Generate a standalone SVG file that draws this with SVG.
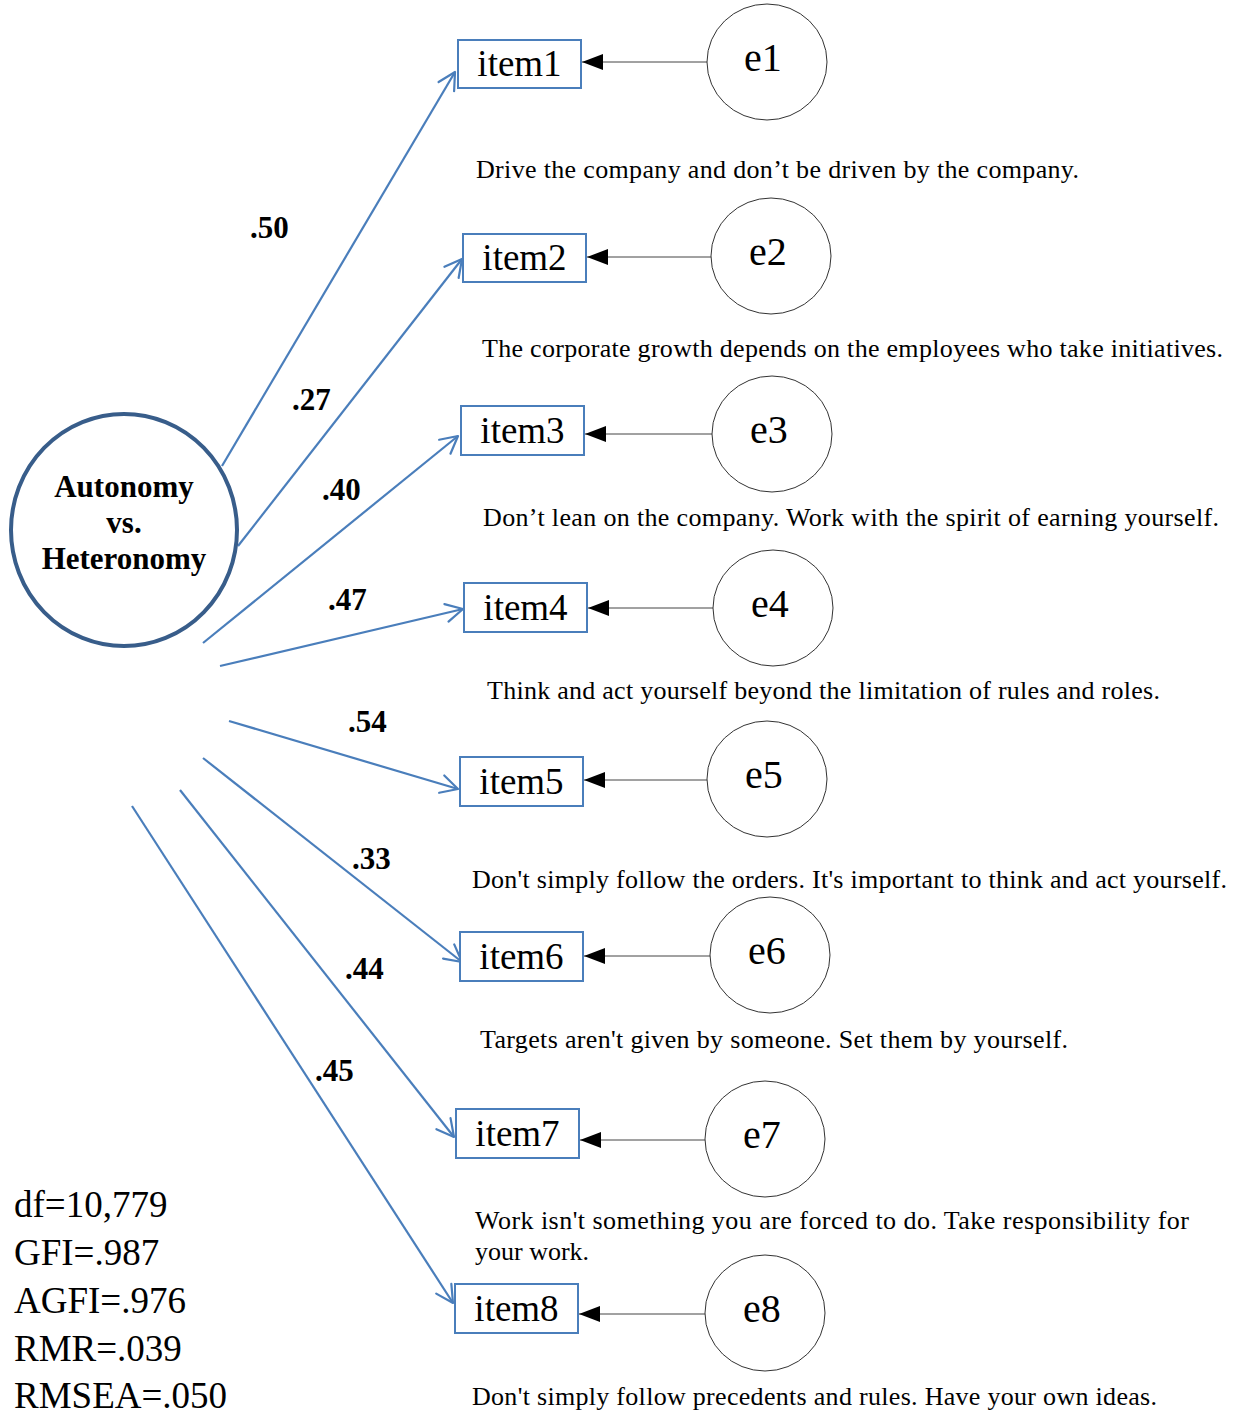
<svg xmlns="http://www.w3.org/2000/svg" width="1237" height="1414" viewBox="0 0 1237 1414">
<style>
  .item rect { fill: #fff; stroke: #4A7EBB; stroke-width: 2; }
  .item text { font-family: "Liberation Serif", "Times New Roman", serif; font-size: 37px; fill: #000; text-anchor: middle; }
  .err ellipse { fill: #fff; stroke: #333; stroke-width: 1; }
  .err text { font-family: "Liberation Serif", "Times New Roman", serif; font-size: 40px; fill: #000; text-anchor: middle; }
  .desc { font-family: "Liberation Serif", "Times New Roman", serif; font-size: 26px; fill: #000; }
  .load { font-family: "Liberation Serif", "Times New Roman", serif; font-size: 31px; font-weight: bold; fill: #000; }
  .stat { font-family: "Liberation Serif", "Times New Roman", serif; font-size: 37px; fill: #000; }
  .latent text { font-family: "Liberation Serif", "Times New Roman", serif; font-size: 31px; font-weight: bold; fill: #000; text-anchor: middle; }
  .path { stroke: #4A7EBB; stroke-width: 2.2; fill: none; marker-end: url(#openArrow); }
  .eline { stroke: #444; stroke-width: 1; fill: none; marker-end: url(#solidArrow); }
</style>
<defs>
  <marker id="openArrow" viewBox="-20 -12 24 24" markerWidth="24" markerHeight="24" refX="0" refY="0" orient="auto" markerUnits="userSpaceOnUse">
    <path d="M-17,-9 L0,0 L-17,9" fill="none" stroke="#4A7EBB" stroke-width="2.2" stroke-linecap="round" stroke-linejoin="round"/>
  </marker>
  <marker id="solidArrow" viewBox="-22 -10 24 20" markerWidth="24" markerHeight="20" refX="0" refY="0" orient="auto" markerUnits="userSpaceOnUse">
    <path d="M0,0 L-21,-8 L-21,8 Z" fill="#000"/>
  </marker>
</defs>
<rect width="1237" height="1414" fill="#fff"/>

<g id="connectors">
  <line class="path" x1="222" y1="466" x2="455" y2="72"/>
  <line class="path" x1="238" y1="546" x2="462" y2="259"/>
  <line class="path" x1="203" y1="643" x2="458" y2="436"/>
  <line class="path" x1="220" y1="666" x2="463" y2="609"/>
  <line class="path" x1="229" y1="721" x2="458" y2="789"/>
  <line class="path" x1="203" y1="758" x2="462" y2="962"/>
  <line class="path" x1="180" y1="790" x2="454" y2="1137"/>
  <line class="path" x1="132" y1="806" x2="453" y2="1303"/>

  <line class="eline" x1="707" y1="62" x2="582" y2="62"/>
  <line class="eline" x1="712" y1="257" x2="587" y2="257"/>
  <line class="eline" x1="713" y1="434" x2="585" y2="434"/>
  <line class="eline" x1="714" y1="608" x2="588" y2="608"/>
  <line class="eline" x1="707" y1="780" x2="584" y2="780"/>
  <line class="eline" x1="711" y1="956" x2="584" y2="956"/>
  <line class="eline" x1="705" y1="1140" x2="580" y2="1140"/>
  <line class="eline" x1="705" y1="1314" x2="579" y2="1314"/>
</g>

<g id="latent" class="latent">
  <ellipse cx="124" cy="530" rx="113" ry="116" fill="#fff" stroke="#385D8A" stroke-width="4"/>
  <text x="124" y="497">Autonomy</text>
  <text x="124" y="533">vs.</text>
  <text x="124" y="569">Heteronomy</text>
</g>

<g id="item1" class="item"><rect x="458" y="40" width="123" height="48"/><text x="519.5" y="76">item1</text></g>
<g id="item2" class="item"><rect x="463" y="234" width="123" height="48"/><text x="524.5" y="270">item2</text></g>
<g id="item3" class="item"><rect x="461" y="406" width="123" height="49"/><text x="522.5" y="443">item3</text></g>
<g id="item4" class="item"><rect x="464" y="583" width="123" height="49"/><text x="525.5" y="620">item4</text></g>
<g id="item5" class="item"><rect x="460" y="757" width="123" height="49"/><text x="521.5" y="794">item5</text></g>
<g id="item6" class="item"><rect x="460" y="932" width="123" height="49"/><text x="521.5" y="969">item6</text></g>
<g id="item7" class="item"><rect x="456" y="1109" width="123" height="49"/><text x="517.5" y="1146">item7</text></g>
<g id="item8" class="item"><rect x="455" y="1284" width="123" height="49"/><text x="516.5" y="1321">item8</text></g>

<g id="e1" class="err"><ellipse cx="767" cy="62" rx="60" ry="58"/><text x="763" y="71">e1</text></g>
<g id="e2" class="err"><ellipse cx="771" cy="256" rx="60" ry="58"/><text x="768" y="265">e2</text></g>
<g id="e3" class="err"><ellipse cx="772" cy="434" rx="60" ry="58"/><text x="769" y="443">e3</text></g>
<g id="e4" class="err"><ellipse cx="773" cy="608" rx="60" ry="58"/><text x="770" y="617">e4</text></g>
<g id="e5" class="err"><ellipse cx="767" cy="779" rx="60" ry="58"/><text x="764" y="788">e5</text></g>
<g id="e6" class="err"><ellipse cx="770" cy="955" rx="60" ry="58"/><text x="767" y="964">e6</text></g>
<g id="e7" class="err"><ellipse cx="765" cy="1139" rx="60" ry="58"/><text x="762" y="1148">e7</text></g>
<g id="e8" class="err"><ellipse cx="765" cy="1313" rx="60" ry="58"/><text x="762" y="1322">e8</text></g>

<g id="loadings">
  <text class="load" x="250" y="238">.50</text>
  <text class="load" x="292" y="410">.27</text>
  <text class="load" x="322" y="500">.40</text>
  <text class="load" x="328" y="610">.47</text>
  <text class="load" x="348" y="732">.54</text>
  <text class="load" x="352" y="869">.33</text>
  <text class="load" x="345" y="979">.44</text>
  <text class="load" x="315" y="1081">.45</text>
</g>

<g id="descriptions">
  <text class="desc" x="476" y="178" textLength="603" lengthAdjust="spacing">Drive the company and don’t be driven by the company.</text>
  <text class="desc" x="482" y="357" textLength="741" lengthAdjust="spacing">The corporate growth depends on the employees who take initiatives.</text>
  <text class="desc" x="483" y="526" textLength="736" lengthAdjust="spacing">Don’t lean on the company. Work with the spirit of earning yourself.</text>
  <text class="desc" x="487" y="699" textLength="673" lengthAdjust="spacing">Think and act yourself beyond the limitation of rules and roles.</text>
  <text class="desc" x="472" y="888" textLength="755" lengthAdjust="spacing">Don't simply follow the orders. It's important to think and act yourself.</text>
  <text class="desc" x="480" y="1048" textLength="588" lengthAdjust="spacing">Targets aren't given by someone. Set them by yourself.</text>
  <text class="desc" x="475" y="1229" textLength="714" lengthAdjust="spacing">Work isn't something you are forced to do. Take responsibility for</text>
  <text class="desc" x="475" y="1260">your work.</text>
  <text class="desc" x="472" y="1405" textLength="685" lengthAdjust="spacing">Don't simply follow precedents and rules. Have your own ideas.</text>
</g>

<g id="stats">
  <text class="stat" x="14" y="1217">df=10,779</text>
  <text class="stat" x="14" y="1265">GFI=.987</text>
  <text class="stat" x="14" y="1313">AGFI=.976</text>
  <text class="stat" x="14" y="1361">RMR=.039</text>
  <text class="stat" x="14" y="1408">RMSEA=.050</text>
</g>
</svg>
